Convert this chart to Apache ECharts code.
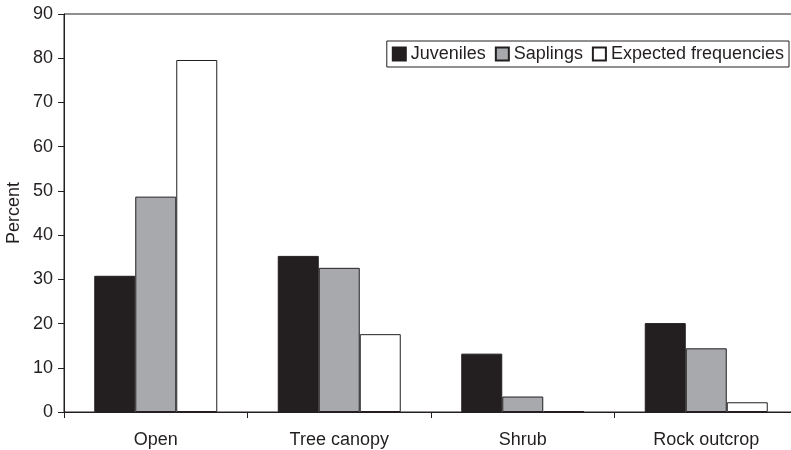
<!DOCTYPE html>
<html>
<head>
<meta charset="utf-8">
<script src="https://cdn.jsdelivr.net/npm/echarts@6/dist/echarts.min.js"></script>
<style>
html,body{margin:0;padding:0;background:#fff;}
#chart{width:791px;height:450px;}
</style>
</head>
<body>
<div id="chart"></div>
<script>
const categories = ['Open', 'Tree canopy', 'Shrub', 'Rock outcrop'];
const juveniles = [30.8, 35.3, 13.2, 20.1];
const saplings = [48.7, 32.6, 3.5, 14.4];
const expected = [79.6, 17.6, 0.2, 2.2];
const yTicks = { min: 0, max: 90, interval: 10 };

const ink = '#231f20';
const font = 'Liberation Sans, Arial, sans-serif';

const chart = echarts.init(document.getElementById('chart'), null, { renderer: 'canvas' });
const barStyle = (color) => ({ color: color, borderColor: ink, borderWidth: 1 });

chart.setOption({
  animation: false,
  backgroundColor: '#ffffff',
  textStyle: { fontFamily: font, color: ink },
  grid: {
    left: 64, top: 14, bottom: 38, width: 734,
    containLabel: false,
    outerBoundsMode: 'none',
    show: true, borderColor: ink, borderWidth: 1, backgroundColor: 'transparent'
  },
  legend: {
    right: 2, top: 41,
    orient: 'horizontal',
    itemWidth: 13, itemHeight: 13, itemGap: 9,
    padding: [4, 5],
    borderColor: ink, borderWidth: 1, backgroundColor: '#fff',
    textStyle: { fontSize: 18, fontFamily: font, color: ink },
    data: [
      { name: 'Juveniles', icon: 'rect' },
      { name: 'Saplings', icon: 'rect' },
      { name: 'Expected frequencies', icon: 'rect' }
    ]
  },
  xAxis: {
    type: 'category',
    data: categories,
    axisLine: { lineStyle: { color: ink, width: 1 } },
    axisTick: { show: true, length: 6, lineStyle: { color: ink } },
    axisLabel: { fontSize: 18, color: ink, fontFamily: font, margin: 19 },
    splitLine: { show: false }
  },
  yAxis: {
    type: 'value',
    min: yTicks.min, max: yTicks.max, interval: yTicks.interval,
    name: 'Percent',
    nameLocation: 'middle',
    nameGap: 41,
    nameMoveOverlap: false,
    nameTextStyle: { fontSize: 18, color: ink, fontFamily: font },
    axisLine: { show: true, lineStyle: { color: ink, width: 1 } },
    axisTick: { show: true, length: 6, lineStyle: { color: ink } },
    axisLabel: { fontSize: 18, color: ink, fontFamily: font, margin: 11 },
    splitLine: { show: false }
  },
  series: [
    { name: 'Juveniles', type: 'bar', data: juveniles, barWidth: 41, barGap: '0%', itemStyle: barStyle(ink) },
    { name: 'Saplings', type: 'bar', data: saplings, barWidth: 41, barGap: '0%', itemStyle: barStyle('#a7a9ac') },
    { name: 'Expected frequencies', type: 'bar', data: expected, barWidth: 41, barGap: '0%', itemStyle: barStyle('#ffffff') }
  ]
});
</script>
</body>
</html>
